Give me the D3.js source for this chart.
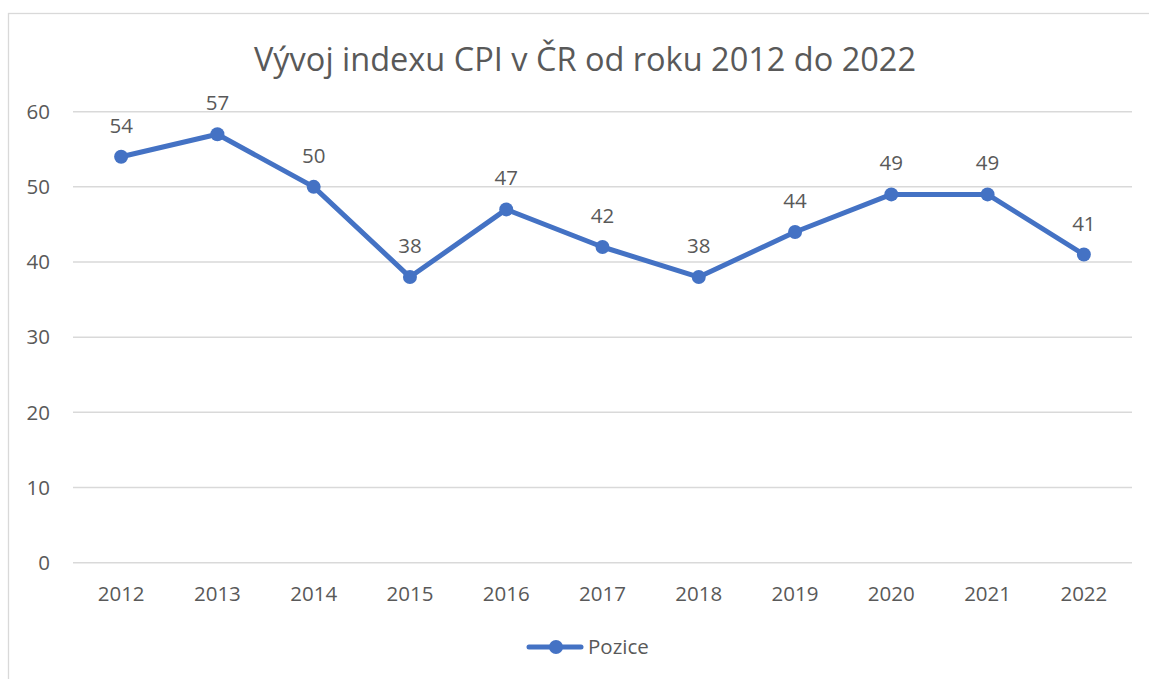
<!DOCTYPE html>
<html>
<head>
<meta charset="utf-8">
<script src="https://cdnjs.cloudflare.com/ajax/libs/d3/7.8.5/d3.min.js"></script>
<style>
  body { margin: 0; background: #fff; }
  #chart { width: 1149px; height: 679px; }
  text { font-family: "Open Sans", "Liberation Sans", sans-serif; fill: #595959; }
</style>
</head>
<body>
<div id="chart"></div>
<script>
const years = ["2012","2013","2014","2015","2016","2017","2018","2019","2020","2021","2022"];
const pozice = [54, 57, 50, 38, 47, 42, 38, 44, 49, 49, 41];
const yTicks = [0, 10, 20, 30, 40, 50, 60];
const title = "Vývoj indexu CPI v ČR od roku 2012 do 2022";
const seriesName = "Pozice";

const width = 1149, height = 679;
const blue = "#4472C4";

const svg = d3.select("#chart").append("svg")
    .attr("width", width).attr("height", height);

// chart frame (only top and left edges are visible)
svg.append("rect")
    .attr("x", 8.5).attr("y", 13.5)
    .attr("width", 1200).attr("height", 700)
    .attr("fill", "none").attr("stroke", "#d9d9d9").attr("stroke-width", 1.3);

const plotLeft = 73, plotRight = 1132;

const x = d3.scalePoint()
    .domain(years)
    .range([plotLeft, plotRight])
    .padding(0.5);

const y = d3.scaleLinear()
    .domain([0, 60])
    .range([562.7, 111.7]);

// gridlines
svg.append("g")
  .selectAll("line")
  .data(yTicks)
  .join("line")
    .attr("x1", plotLeft).attr("x2", plotRight)
    .attr("y1", d => y(d)).attr("y2", d => y(d))
    .attr("stroke", "#d9d9d9").attr("stroke-width", 1.5);

// y axis labels
svg.append("g")
  .selectAll("text")
  .data(yTicks)
  .join("text")
    .attr("x", 50)
    .attr("y", d => y(d))
    .attr("dy", "0.35em")
    .attr("text-anchor", "end")
    .attr("font-size", 20.5)
    .text(d => d);

// x axis labels
svg.append("g")
  .selectAll("text")
  .data(years)
  .join("text")
    .attr("x", d => x(d))
    .attr("y", 600.5)
    .attr("text-anchor", "middle")
    .attr("font-size", 20.5)
    .text(d => d);

// title
svg.append("text")
    .attr("x", 585)
    .attr("y", 70.5)
    .attr("text-anchor", "middle")
    .attr("font-size", 32.5)
    .text(title);

const data = years.map((yr, i) => ({year: yr, value: pozice[i]}));

const line = d3.line()
    .x(d => x(d.year))
    .y(d => y(d.value));

svg.append("path")
    .datum(data)
    .attr("d", line)
    .attr("fill", "none")
    .attr("stroke", blue)
    .attr("stroke-width", 5)
    .attr("stroke-linejoin", "round")
    .attr("stroke-linecap", "round");

svg.append("g")
  .selectAll("circle")
  .data(data)
  .join("circle")
    .attr("cx", d => x(d.year))
    .attr("cy", d => y(d.value))
    .attr("r", 7)
    .attr("fill", blue);

// data labels
svg.append("g")
  .selectAll("text")
  .data(data)
  .join("text")
    .attr("x", d => x(d.year))
    .attr("y", d => y(d.value) - 24)
    .attr("text-anchor", "middle")
    .attr("font-size", 20.5)
    .text(d => d.value);

// legend
const lg = svg.append("g");
lg.append("line")
    .attr("x1", 529).attr("x2", 581)
    .attr("y1", 647).attr("y2", 647)
    .attr("stroke", blue).attr("stroke-width", 5)
    .attr("stroke-linecap", "round");
lg.append("circle")
    .attr("cx", 556).attr("cy", 647).attr("r", 7)
    .attr("fill", blue);
lg.append("text")
    .attr("x", 588).attr("y", 647)
    .attr("dy", "0.35em")
    .attr("font-size", 20.5)
    .text(seriesName);
</script>
</body>
</html>
